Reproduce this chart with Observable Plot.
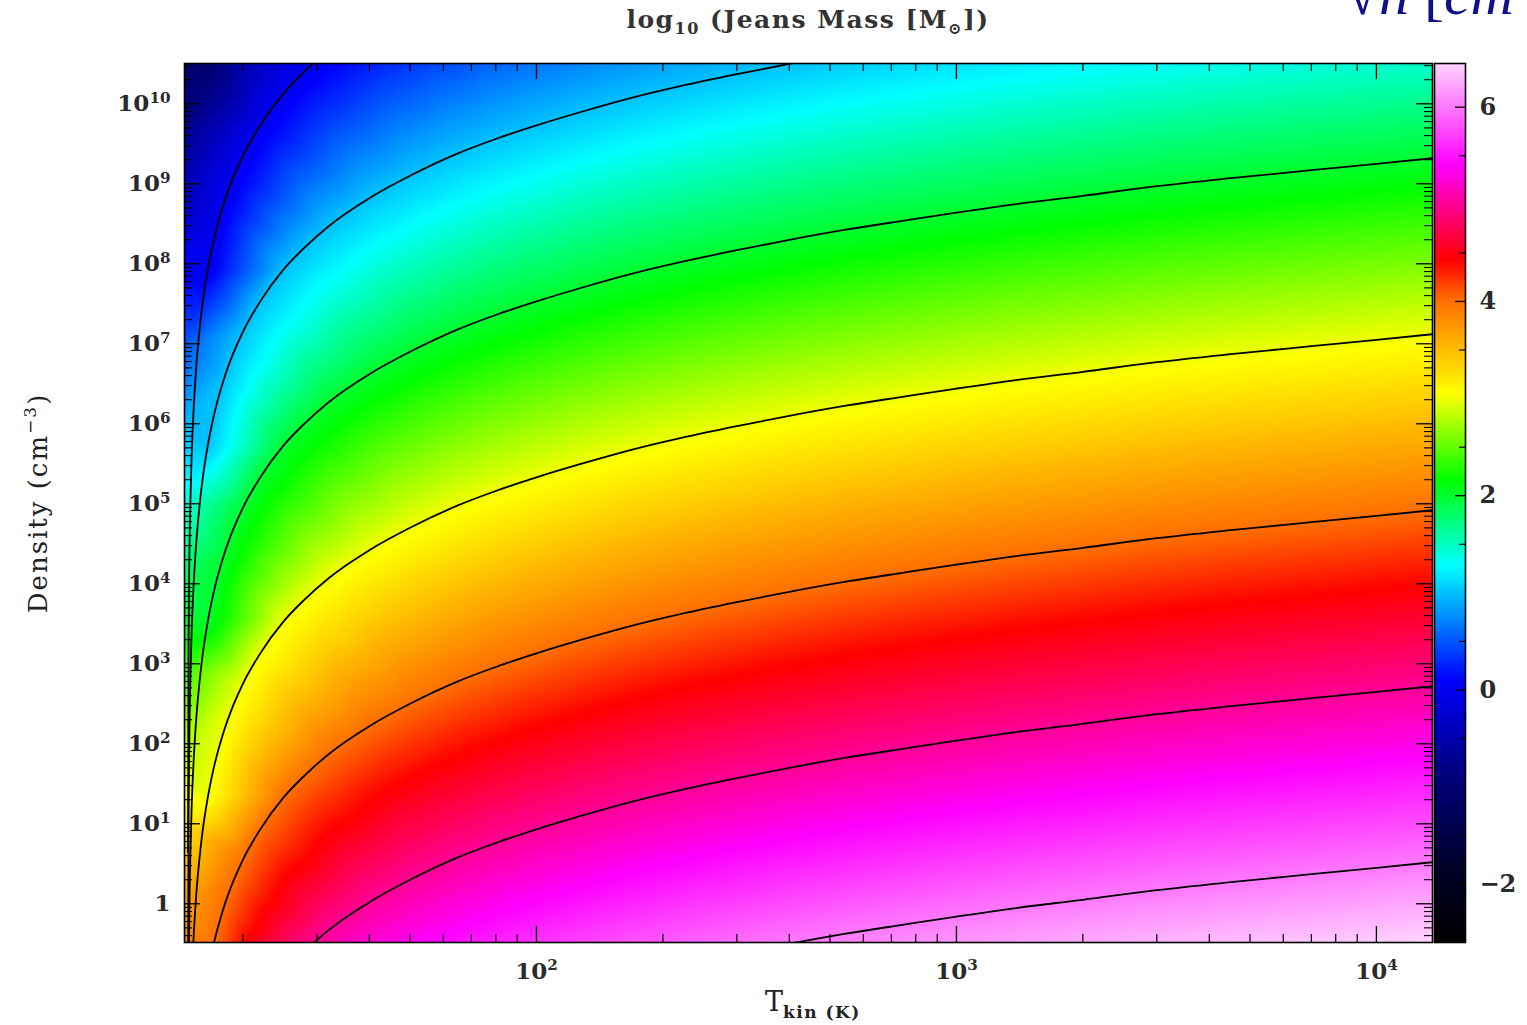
<!DOCTYPE html>
<html><head><meta charset="utf-8">
<script src="https://cdn.jsdelivr.net/npm/d3@7"></script>
<script src="https://cdn.jsdelivr.net/npm/@observablehq/plot@0.6"></script>
<style>
html,body{margin:0;padding:0;background:#fff;width:1527px;height:1025px;overflow:hidden}
#wrap{position:relative;width:1527px;height:1025px}
#wrap svg{position:absolute;left:0;top:0}
.lbl{position:absolute;font-family:"DejaVu Serif",serif;color:#222;white-space:nowrap;line-height:normal}
</style></head><body><div id="wrap"></div>
<script>
// ---- data ----
const tempK = [14.8, 14.85, 14.9, 15, 15.1, 15.25, 15.5, 15.75, 16, 16.5, 17, 18, 19, 20, 22, 25, 28, 32, 40, 50, 65, 80, 100, 130, 170, 220, 300, 400, 550, 750, 1000, 1400, 2000, 3000, 4500, 7000, 10000, 13600];
const contourLevels = [0, 1, 2, 3, 4, 5, 6];
// log10 density (cm^-3) of each contour line at the temperatures above
const logDensityLevel0 = [0.65, 3.29, 4.15, 5.05, 5.60, 6.14, 6.74, 7.15, 7.47, 7.93, 8.27, 8.75, 9.09, 9.35, 9.73, 10.13, 10.40, 10.67, 11.02, 11.30, 11.58, 11.76, 11.93, 12.11, 12.28, 12.42, 12.57, 12.70, 12.83, 12.94, 13.04, 13.15, 13.25, 13.37, 13.47, 13.57, 13.65, 13.72];
const logDensityLevel1 = [-1.55, 1.09, 1.95, 2.85, 3.40, 3.94, 4.54, 4.95, 5.27, 5.73, 6.07, 6.55, 6.89, 7.15, 7.53, 7.93, 8.20, 8.47, 8.82, 9.10, 9.38, 9.56, 9.73, 9.91, 10.08, 10.22, 10.37, 10.50, 10.63, 10.74, 10.84, 10.95, 11.05, 11.17, 11.27, 11.37, 11.45, 11.52];
const logDensityLevel2 = [-3.75, -1.11, -0.25, 0.65, 1.20, 1.74, 2.34, 2.75, 3.07, 3.53, 3.87, 4.35, 4.69, 4.95, 5.33, 5.73, 6.00, 6.27, 6.62, 6.90, 7.18, 7.36, 7.53, 7.71, 7.88, 8.02, 8.17, 8.30, 8.43, 8.54, 8.64, 8.75, 8.85, 8.97, 9.07, 9.17, 9.25, 9.32];
const logDensityLevel3 = [-5.95, -3.31, -2.45, -1.55, -1.00, -0.46, 0.14, 0.55, 0.87, 1.33, 1.67, 2.15, 2.49, 2.75, 3.13, 3.53, 3.80, 4.07, 4.42, 4.70, 4.98, 5.16, 5.33, 5.51, 5.68, 5.82, 5.97, 6.10, 6.23, 6.34, 6.44, 6.55, 6.65, 6.77, 6.87, 6.97, 7.05, 7.12];
const logDensityLevel4 = [-8.15, -5.51, -4.65, -3.75, -3.20, -2.66, -2.06, -1.65, -1.33, -0.87, -0.53, -0.05, 0.29, 0.55, 0.93, 1.33, 1.60, 1.87, 2.22, 2.50, 2.78, 2.96, 3.13, 3.31, 3.48, 3.62, 3.77, 3.90, 4.03, 4.14, 4.24, 4.35, 4.45, 4.57, 4.67, 4.77, 4.85, 4.92];
const logDensityLevel5 = [-10.35, -7.71, -6.85, -5.95, -5.40, -4.86, -4.26, -3.85, -3.53, -3.07, -2.73, -2.25, -1.91, -1.65, -1.27, -0.87, -0.60, -0.33, 0.02, 0.30, 0.58, 0.76, 0.93, 1.11, 1.28, 1.42, 1.57, 1.70, 1.83, 1.94, 2.04, 2.15, 2.25, 2.37, 2.47, 2.57, 2.65, 2.72];
const logDensityLevel6 = [-12.55, -9.91, -9.05, -8.15, -7.60, -7.06, -6.46, -6.05, -5.73, -5.27, -4.93, -4.45, -4.11, -3.85, -3.47, -3.07, -2.80, -2.53, -2.18, -1.90, -1.62, -1.44, -1.27, -1.09, -0.92, -0.78, -0.63, -0.50, -0.37, -0.26, -0.16, -0.05, 0.05, 0.17, 0.27, 0.37, 0.45, 0.52];
// colours sampled along the plot edges (log10 Jeans mass)
const leftEdgeLogN  = [10.5, 9.5, 9, 8, 7, 6, 5, 4, 3, 2, 1, 0, -0.5];
const leftEdgeValue = [-1.10, -0.65, -0.42, 0.03, 0.49, 0.94, 1.40, 1.85, 2.31, 2.76, 3.22, 3.67, 3.90];
const topEdgeT      = [17, 18, 20, 22, 25];
const topEdgeValue  = [-1.0, -0.79, -0.52, -0.35, -0.17];
const bottomEdgeT     = [500, 700, 1000, 2000, 3000, 5000, 7000, 10000, 13600];
const bottomEdgeValue = [6.04, 6.09, 6.15, 6.25, 6.30, 6.36, 6.39, 6.43, 6.47];
// tick labels
const xMajorTicks = [100, 1000, 10000];
const yMajorTicks = [1, 1e1, 1e2, 1e3, 1e4, 1e5, 1e6, 1e7, 1e8, 1e9, 1e10];
const colorbarTicks = [-2, 0, 2, 4, 6];

// ---- scale config ----
const colorStops = [-2.6, -1.8, -0.8, 0.1, 1.28, 2.16, 3.05, 4.0, 4.42, 5.4, 6.45];
const colorRamp  = ["#000000", "#00002a", "#000085", "#0000ff", "#00ffff", "#00ff00", "#ffff00", "#ff7000", "#ff0000", "#ff00ff", "#ffd4ff"];
const colorScale = {type: "linear", domain: colorStops, range: colorRamp, interpolate: "rgb", clamp: true};

const levelArrays = [logDensityLevel0, logDensityLevel1, logDensityLevel2, logDensityLevel3, logDensityLevel4, logDensityLevel5, logDensityLevel6];
const contourPts = [];
levelArrays.forEach((arr, L) => tempK.forEach((T, i) => contourPts.push({T, n: 10 ** arr[i], level: contourLevels[L]})));
const rasterPts = contourPts.filter(d => d.T >= 16.5).map(d => ({T: d.T, n: d.n, v: d.level}));
leftEdgeLogN.forEach((ln, i) => rasterPts.push({T: 14.52, n: 10 ** ln, v: leftEdgeValue[i]}));
topEdgeT.forEach((T, i) => rasterPts.push({T, n: 10 ** 10.5, v: topEdgeValue[i]}));
bottomEdgeT.forEach((T, i) => rasterPts.push({T, n: 10 ** -0.5, v: bottomEdgeValue[i]}));

// minor ticks
const xMinorTicks = [], yMinorTicks = [];
for (let e = 1; e <= 3; e++) for (let m = 2; m <= 9; m++) xMinorTicks.push(m * 10 ** e);
for (let e = -1; e <= 10; e++) for (let m = 2; m <= 9; m++) { const v = m * 10 ** e; if (v > 0.328 && v < 3.19e10) yMinorTicks.push(v); }
const cbMinor = d3.range(-2.5, 6.01, 0.5).filter(v => v % 1 !== 0);

const FONT = "DejaVu Serif, serif";
const W = 1527, H = 1025;
const FW = 1248, FH = 879;
const fmtX = d => "10^" + Math.round(Math.log10(d));
const fmtY = d => { const e = Math.round(Math.log10(d)); return e === 0 ? "1" : "10^" + e; };

const main = Plot.plot({
  width: W, height: H,
  marginLeft: 184, marginRight: 95, marginTop: 63, marginBottom: 83,
  style: {background: "transparent", overflow: "visible"},
  x: {type: "log", domain: [14.52, 13600], axis: null},
  y: {type: "log", domain: [0.328, 3.19e10], axis: null},
  color: colorScale,
  marks: [
    Plot.raster(rasterPts, {x: "T", y: "n", fill: "v", interpolate: "barycentric"}),
    Plot.line(contourPts, {x: "T", y: "n", z: "level", stroke: "#000", strokeWidth: 1.8, curve: "monotone-x", clip: true}),
    Plot.tickX(xMajorTicks, {x: d => d, insetTop: FH - 16, stroke: "#000", strokeWidth: 1.3}),
    Plot.tickX(xMajorTicks, {x: d => d, insetBottom: FH - 16, stroke: "#000", strokeWidth: 1.3}),
    Plot.tickX(xMinorTicks, {x: d => d, insetTop: FH - 8, stroke: "#000", strokeWidth: 1.2}),
    Plot.tickX(xMinorTicks, {x: d => d, insetBottom: FH - 8, stroke: "#000", strokeWidth: 1.2}),
    Plot.tickY(yMajorTicks, {y: d => d, insetRight: FW - 16, stroke: "#000", strokeWidth: 1.3}),
    Plot.tickY(yMajorTicks, {y: d => d, insetLeft: FW - 16, stroke: "#000", strokeWidth: 1.3}),
    Plot.tickY(yMinorTicks, {y: d => d, insetRight: FW - 8, stroke: "#000", strokeWidth: 1.1}),
    Plot.tickY(yMinorTicks, {y: d => d, insetLeft: FW - 8, stroke: "#000", strokeWidth: 1.1}),
    Plot.axisX(xMajorTicks, {anchor: "bottom", tickSize: 0, tickPadding: 20, tickFormat: fmtX, fontSize: 23, fontWeight: "bold", fontFamily: FONT, fill: "#2a2a2a", label: null}),
    Plot.axisY(yMajorTicks, {anchor: "left", tickSize: 0, tickPadding: 14, tickFormat: fmtY, fontSize: 23, fontWeight: "bold", fontFamily: FONT, fill: "#2a2a2a", label: null}),
    Plot.frame({stroke: "#000", strokeWidth: 1.6})
  ]
});

const cbSteps = d3.range(-2.6, 6.45, 0.01);
const cbar = Plot.plot({
  width: W, height: H,
  marginLeft: 1434, marginRight: 62, marginTop: 63, marginBottom: 83,
  style: {background: "transparent", overflow: "visible"},
  x: {domain: [0, 1], axis: null},
  y: {domain: [-2.6, 6.45], axis: null},
  color: colorScale,
  marks: [
    Plot.rect(cbSteps, {x1: 0, x2: 1, y1: d => d, y2: d => d + 0.0105, fill: d => d + 0.005, shapeRendering: "crispEdges"}),
    Plot.tickY(colorbarTicks, {y: d => d, insetLeft: 21, stroke: "#000", strokeWidth: 1.3}),
    Plot.tickY(cbMinor, {y: d => d, insetLeft: 25, stroke: "#000", strokeWidth: 1.2}),
    Plot.axisY(colorbarTicks, {anchor: "right", tickSize: 0, tickPadding: 14, tickFormat: d => d < 0 ? "\u2212" + (-d) : String(d), fontSize: 24, fontWeight: "bold", fontFamily: FONT, fill: "#2a2a2a", label: null}),
    Plot.frame({stroke: "#000", strokeWidth: 1.6})
  ]
});

const svgNS = "http://www.w3.org/2000/svg";
function supify(svg) {
  svg.querySelectorAll("text").forEach(t => {
    const s = t.textContent;
    if (s.includes("^")) {
      const [b, e] = s.split("^");
      t.textContent = b;
      const ts = document.createElementNS(svgNS, "tspan");
      ts.setAttribute("dy", "-0.55em");
      ts.setAttribute("font-size", "0.66em");
      ts.textContent = e;
      t.appendChild(ts);
    }
  });
}
supify(main);

const wrap = document.getElementById("wrap");
wrap.appendChild(main);
wrap.appendChild(cbar);

function addLabel(html, style) {
  const d = document.createElement("div");
  d.className = "lbl";
  d.innerHTML = html;
  Object.assign(d.style, style);
  wrap.appendChild(d);
  return d;
}
addLabel('log<span style="font-size:16px;position:relative;top:6px">10</span> (Jeans Mass [M<span style="font-size:16px;position:relative;top:6px">\u2299</span>])',
  {left: "808px", top: "5px", transform: "translateX(-50%)", fontSize: "25px", letterSpacing: "1.5px", fontWeight: "bold", color: "#333"});
addLabel('T<span style="font-size:17px;position:relative;top:7px;letter-spacing:1.5px;font-weight:bold">kin (K)</span>',
  {left: "765px", top: "986px", fontSize: "27px", color: "#222"});
addLabel('Density (cm<span style="font-size:17px;position:relative;top:-11px">\u22123</span>)',
  {left: "38px", top: "503px", transform: "translate(-50%,-50%) rotate(-90deg)", fontSize: "26px", letterSpacing: "2px", color: "#222"});
addLabel('\u221A<i>n</i> [<i>cm</i><span style="font-size:34px;position:relative;top:-24px">\u22123</span>]',
  {left: "1346px", top: "-40px", fontSize: "60px", fontFamily: "Liberation Serif, serif", color: "#10108c"});
</script></body></html>
